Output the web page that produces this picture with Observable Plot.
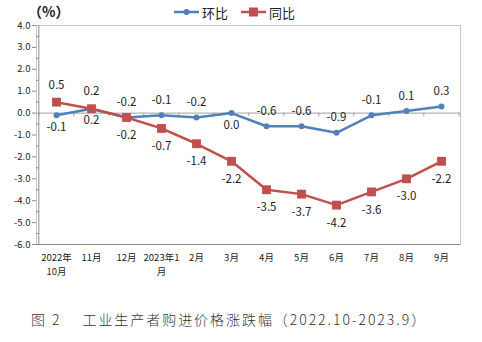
<!DOCTYPE html>
<html><head><meta charset="utf-8">
<script src="https://cdn.jsdelivr.net/npm/d3@7"></script>
<script src="https://cdn.jsdelivr.net/npm/@observablehq/plot@0.6"></script>
<style>
body{margin:0;background:#fff;}
#wrap{position:relative;width:482px;height:342px;font-family:"Noto Sans CJK SC","Noto Sans",sans-serif;overflow:hidden;}
#wrap svg.plot{position:absolute;left:0;top:0;}
.ov{position:absolute;white-space:nowrap;color:#222;}
</style></head><body><div id="wrap"></div>
<script>
const months = ["2022年\n10月","11月","12月","2023年1\n月","2月","3月","4月","5月","6月","7月","8月","9月"];
const mom = [-0.1,0.2,-0.2,-0.1,-0.2,0.0,-0.6,-0.6,-0.9,-0.1,0.1,0.3];
const yoy = [0.5,0.2,-0.2,-0.7,-1.4,-2.2,-3.5,-3.7,-4.2,-3.6,-3.0,-2.2];
const momSide = ["below","below","above","above","above","below","above","above","above","above","above","above"];
const yoySide = ["above","above","below","below","below","below","below","below","below","below","below","below"];
const yTicks = [-6,-5,-4,-3,-2,-1,0,1,2,3,4];
const yMinor = [-5.5,-4.5,-3.5,-2.5,-1.5,-0.5,0.5,1.5,2.5,3.5];
const seriesNames = ["环比","同比"];
const unitLabel = "（%）";
const caption = "图 2　 工业生产者购进价格涨跌幅（2022.10-2023.9）";

const BLUE = "#4F81BD", RED = "#C0504D";
const momData = months.map((m,i)=>({m, v:mom[i], side:momSide[i]}));
const yoyData = months.map((m,i)=>({m, v:yoy[i], side:yoySide[i]}));

const W = 482, H = 342, mL = 36, mR = 22, mT = 25, mB = 98;
const step = (W - mL - mR) / months.length;

const fmt = d => d.toFixed(1);
const chart = Plot.plot({
  width: W, height: H,
  marginLeft: mL, marginRight: mR, marginTop: mT, marginBottom: mB,
  style: {fontFamily: '"Noto Sans CJK SC","Noto Sans",sans-serif', color: "#222", background: "#fff"},
  x: {type: "point", domain: months, padding: 0.5, label: null},
  y: {domain: [-6, 4], label: null},
  marks: [
    Plot.frame({stroke: "#c8c8c8"}),
    Plot.ruleY([0], {stroke: "#a0a0a0"}),
    Plot.ruleX(months, {x: d => d, y1: 0, y2: -0.17, dx: -step/2, stroke: "#a0a0a0"}),
    Plot.ruleX([months[months.length-1]], {x: d => d, y1: 0, y2: -0.17, dx: step/2, stroke: "#a0a0a0"}),
    Plot.ruleX([months[0]], {x: d => d, dx: -step/2, stroke: "#8c8c8c"}),
    Plot.ruleY([-6], {stroke: "#8c8c8c"}),
    Plot.axisY({ticks: yTicks, tickFormat: fmt, tickSize: 4, tickPadding: 2, fontSize: 9.5, stroke: "#8c8c8c", label: null}),
    Plot.axisY({ticks: yMinor, tickFormat: () => "", tickSize: -3, stroke: "#8c8c8c", label: null}),
    Plot.axisX({tickSize: 0, tickPadding: 7, fontSize: 9.5, lineHeight: 1.45, textAnchor: "middle", label: null}),
    Plot.line(momData, {x: "m", y: "v", stroke: BLUE, strokeWidth: 2.5}),
    Plot.dot(momData, {x: "m", y: "v", r: 3, fill: BLUE}),
    Plot.line(yoyData, {x: "m", y: "v", stroke: RED, strokeWidth: 2.5}),
    Plot.dot(yoyData, {x: "m", y: "v", r: 5, symbol: "square", fill: RED}),
    Plot.text(momData.filter(d=>d.side==="above"), {x: "m", y: "v", text: d => fmt(d.v), dy: -15, fontSize: 11.5, fill: "#222"}),
    Plot.text(momData.filter(d=>d.side==="below"), {x: "m", y: "v", text: d => fmt(d.v), dy: 12, fontSize: 11.5, fill: "#222"}),
    Plot.text(yoyData.filter(d=>d.side==="above"), {x: "m", y: "v", text: d => fmt(d.v), dy: -17, fontSize: 11.5, fill: "#222"}),
    Plot.text(yoyData.filter(d=>d.side==="below"), {x: "m", y: "v", text: d => fmt(d.v), dy: 18, fontSize: 11.5, fill: "#222"})
  ]
});
chart.classList.add("plot");
const wrap = document.getElementById("wrap");
wrap.appendChild(chart);

// unit label
const u = document.createElement("div");
u.className = "ov";
u.style.cssText += "left:28px;top:3px;font-size:14px;line-height:16px;font-weight:bold;";
u.textContent = unitLabel;
wrap.appendChild(u);

// legend
const lg = document.createElement("div");
lg.className = "ov";
lg.style.cssText += "left:174px;top:2px;font-size:13px;display:flex;align-items:center;gap:0;";
const sw = (color, square) => {
  const s = d3.create("svg").attr("width", 25).attr("height", 20);
  s.append("line").attr("x1",0).attr("x2",25).attr("y1",10).attr("y2",10).attr("stroke",color).attr("stroke-width",2.5);
  if (square) s.append("rect").attr("x",8).attr("y",5.5).attr("width",9).attr("height",9).attr("fill",color);
  else s.append("circle").attr("cx",12.5).attr("cy",10).attr("r",3).attr("fill",color);
  return s.node();
};
[[BLUE,false],[RED,true]].forEach(([c,sq],i)=>{
  lg.appendChild(sw(c,sq));
  const t = document.createElement("span");
  t.textContent = seriesNames[i];
  t.style.cssText = "margin-left:3px;margin-right:" + (i===0?"13px":"0");
  lg.appendChild(t);
});
wrap.appendChild(lg);

// caption
const cp = document.createElement("div");
cp.className = "ov";
cp.style.cssText += "left:31px;top:309px;font-size:14px;letter-spacing:1.95px;color:#333;font-weight:300;";
cp.textContent = caption;
wrap.appendChild(cp);
</script></body></html>
